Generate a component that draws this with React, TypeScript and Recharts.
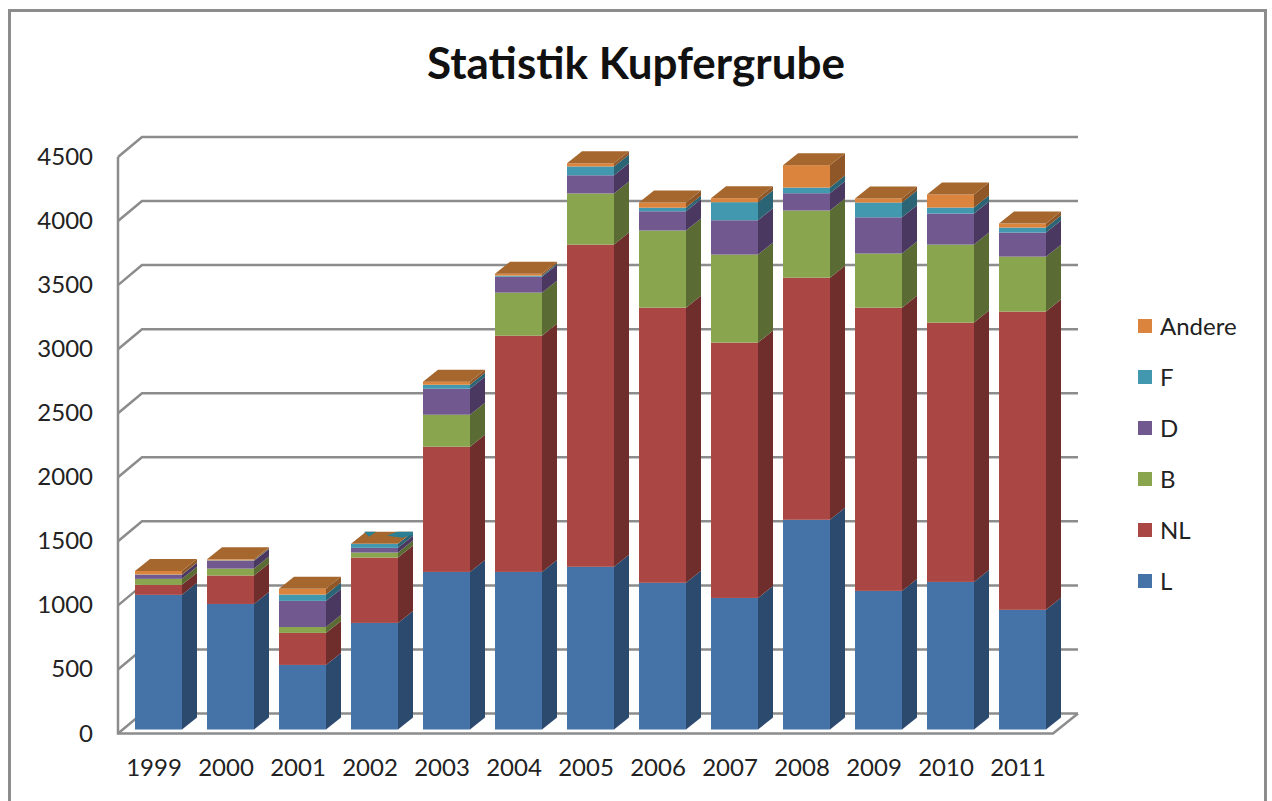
import React from "react";
import { Bar, BarChart, CartesianGrid, XAxis, YAxis } from "recharts";

const years = ["1999", "2000", "2001", "2002", "2003", "2004", "2005", "2006", "2007", "2008", "2009", "2010", "2011"];
const seriesL = [1051, 980, 504, 832, 1230, 1230, 1270, 1145, 1027, 1637, 1082, 1152, 934];
const seriesNL = [78, 222, 250, 510, 977, 1844, 2515, 2148, 1993, 1890, 2211, 2024, 2328];
const seriesB = [47, 54, 46, 39, 250, 336, 399, 602, 687, 524, 422, 609, 429];
const seriesD = [31, 60, 204, 37, 203, 125, 142, 150, 268, 135, 283, 242, 188];
const seriesF = [3, 4, 49, 31, 31, 8, 69, 28, 141, 44, 115, 47, 39];
const seriesAndere = [28, 8, 45, 0, 24, 15, 25, 40, 31, 175, 32, 102, 31];
const yTicks = [0, 500, 1000, 1500, 2000, 2500, 3000, 3500, 4000, 4500];

const legendItems = [
  { name: "Andere", color: "#DB843D" },
  { name: "F", color: "#4198AF" },
  { name: "D", color: "#71588F" },
  { name: "B", color: "#89A54E" },
  { name: "NL", color: "#AA4643" },
  { name: "L", color: "#4572A7" },
];

const data = years.map((year, i) => ({
  year,
  L: seriesL[i],
  NL: seriesNL[i],
  B: seriesB[i],
  D: seriesD[i],
  F: seriesF[i],
  Andere: seriesAndere[i],
}));

const FONT = "Lato, sans-serif";
const GRID = "#8c8c8c";
const TEXT = "#222222";
const DX = 15;
const DY = 12;

// fake 3D box: front + side face, the top series also gets the lid
const box = (side: string, lid?: string) => (props: any) => {
  const { x, y, width, height, fill, payload } = props;
  const r = x + width;
  const lidPts = `${x},${y} ${x + DX},${y - DY} ${r + DX},${y - DY} ${r},${y}`;
  return (
    <g>
      <rect x={x} y={y} width={width} height={height} fill={fill} />
      <polygon
        points={`${r},${y} ${r + DX},${y - DY} ${r + DX},${y + height - DY} ${r},${y + height}`}
        fill={side}
      />
      {lid && <polygon points={lidPts} fill={lid} />}
      {/* 2002 has no "Andere": the excel lid fights with the teal one below */}
      {lid && payload.Andere === 0 && (
        <>
          <polygon points={`${x + 13},${y - DY} ${x + 25},${y - DY} ${x + 18},${y - 7}`} fill="#2a7f93" />
          <polygon
            points={`${r - 11},${y - 8} ${r - 1},${y - DY} ${r + DX},${y - DY} ${r + DX},${y - 9} ${r + 4},${y - 6}`}
            fill="#2a7f93"
          />
        </>
      )}
    </g>
  );
};

// back wall and floor are hung on the grid lines, 3D offset from the tick position
const wallLine = (props: any) => {
  const { x1, x2, y1 } = props;
  const left = x1 - 4.5;
  const front = y1 + 4;
  const back = y1 - 16;
  return (
    <g key={`wall-${y1}`} fill="none" stroke={GRID} strokeWidth={2.5}>
      <path d={`M${left},${front} L${left + 24},${back} L${x2 + 19.5},${back}`} />
      {y1 > 700 && (
        <path d={`M${left},157 L${left},${front} L${x2 - 5.5},${front} L${x2 + 19.5},${back}`} />
      )}
    </g>
  );
};

const xTick = (props: any) => (
  <text x={props.x - 4.5} y={props.y + 38} textAnchor="middle" fontFamily={FONT} fontSize={24} fill={TEXT}>
    {props.payload.value}
  </text>
);

const yTick = (props: any) => (
  <text x={93} y={props.y + 12} textAnchor="end" fontFamily={FONT} fontSize={24} fill={TEXT}>
    {props.payload.value}
  </text>
);

export default function App() {
  return (
    <div style={{ position: "absolute", left: 0, top: 0, width: 1272, height: 801, overflow: "hidden", background: "#fff" }}>
      <div
        style={{
          position: "absolute",
          left: 8,
          top: 9,
          width: 1253,
          height: 820,
          border: "3px solid #8c8c8c",
        }}
      />
      <div
        style={{
          position: "absolute",
          left: 0,
          top: 36,
          width: 1272,
          textAlign: "center",
          fontFamily: FONT,
          fontWeight: 700,
          fontSize: 44,
          color: "#111",
        }}
      >
        Statistik Kupfergrube
      </div>
      <div style={{ position: "absolute", left: 0, top: 0 }}>
        <BarChart
          width={1272}
          height={801}
          data={data}
          barCategoryGap={12.5}
          margin={{ top: 153, right: 213.5, bottom: 0, left: 0 }}
        >
          <CartesianGrid vertical={false} horizontal={wallLine} />
          <XAxis dataKey="year" height={71.5} axisLine={false} tickLine={false} tick={xTick} interval={0} />
          <YAxis
            width={122.5}
            domain={[0, 4500]}
            ticks={yTicks}
            axisLine={false}
            tickLine={false}
            tick={yTick}
            interval={0}
          />
          <Bar dataKey="L" stackId="a" fill="#4572A7" isAnimationActive={false} shape={box("#2C4A6E")} />
          <Bar dataKey="NL" stackId="a" fill="#AA4643" isAnimationActive={false} shape={box("#6F2D2B")} />
          <Bar dataKey="B" stackId="a" fill="#89A54E" isAnimationActive={false} shape={box("#5A6B33")} />
          <Bar dataKey="D" stackId="a" fill="#71588F" isAnimationActive={false} shape={box("#4A3860")} />
          <Bar dataKey="F" stackId="a" fill="#4198AF" isAnimationActive={false} shape={box("#2A6475")} />
          <Bar dataKey="Andere" stackId="a" fill="#DB843D" isAnimationActive={false} shape={box("#8F5728", "#A5672D")} />
        </BarChart>
      </div>
      <div style={{ position: "absolute", left: 1138, top: 300, fontFamily: FONT, fontSize: 24, color: TEXT }}>
        {legendItems.map((item) => (
          <div key={item.name} style={{ display: "flex", alignItems: "center", height: 51 }}>
            <span style={{ width: 14, height: 14, background: item.color, marginRight: 8 }} />
            {item.name}
          </div>
        ))}
      </div>
    </div>
  );
}
